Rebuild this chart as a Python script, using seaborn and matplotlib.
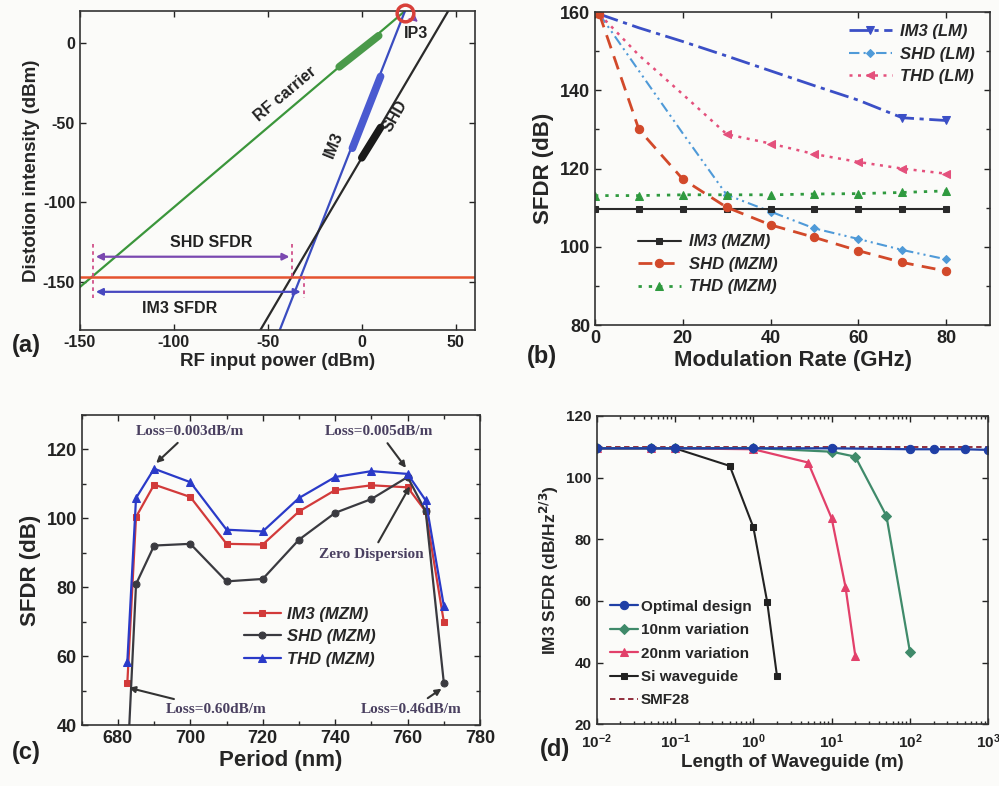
import matplotlib
matplotlib.use("Agg")
import matplotlib.pyplot as plt
import matplotlib.ticker as mticker
import seaborn as sns

# ---------------- data (a) ----------------
a_carrier_x = [-150, 23]
a_carrier_y = [-153, 20]
a_im3_x = [-44, 23]
a_im3_y = [-181, 20]
a_shd_x = [-54, 46]
a_shd_y = [-180, 20]
a_carrier_meas_x = [-12, 9]
a_carrier_meas_y = [-15, 4.5]
a_im3_meas_x = [-5, 10]
a_im3_meas_y = [-66, -21]
a_shd_meas_x = [0, 10]
a_shd_meas_y = [-72, -53]
a_noise_floor = -146.5
a_ip3 = (23, 19)
a_shd_sfdr = (-143, -37, -134)
a_im3_sfdr = (-143, -31, -156)

# ---------------- data (b) ----------------
b_x_lm = [1, 10, 20, 30, 40, 50, 60, 70, 80]
b_im3_lm = [159.5, 156, 152.5, 148.8, 145, 141.2, 137.5, 133, 132.3]
b_shd_lm = [159.5, 145, 129, 113.3, 109, 104.7, 102, 99.2, 96.8]
b_thd_lm = [159.5, 149, 139, 128.8, 126.4, 123.7, 121.7, 120, 118.7]
b_x_mzm = [0, 10, 20, 30, 40, 50, 60, 70, 80]
b_im3_mzm = [109.7, 109.7, 109.7, 109.7, 109.7, 109.7, 109.7, 109.7, 109.7]
b_shd_mzm = [159.5, 130, 117.3, 110.1, 105.6, 102.4, 99, 96, 93.8]
b_thd_mzm = [113.1, 113.1, 113.3, 113.3, 113.3, 113.5, 113.6, 113.9, 114.3]

# ---------------- data (c) ----------------
c_x = [682.6, 685, 690, 700, 710, 720, 730, 740, 750, 760, 765, 770]
c_im3 = [52.3, 100.4, 109.8, 106.2, 92.6, 92.4, 102, 108.2, 109.6, 109, 102, 70]
c_shd = [28, 80.9, 92.1, 92.6, 81.7, 82.4, 93.8, 101.6, 105.6, 112, 102, 52.3]
c_thd = [58.4, 105.9, 114.4, 110.5, 96.7, 96.2, 105.9, 112, 113.7, 112.9, 105.2, 74.6]

# ---------------- data (d) ----------------
d_opt_x = [0.01, 0.05, 0.1, 1, 10, 100, 200, 500, 1000]
d_opt_y = [109.5, 109.5, 109.5, 109.5, 109.5, 109.2, 109.2, 109.2, 109.0]
d_10_x = [0.01, 0.05, 0.1, 1, 10, 20, 50, 100]
d_10_y = [109.5, 109.5, 109.5, 109.6, 108.4, 106.8, 87.6, 43.4]
d_20_x = [0.01, 0.05, 0.1, 1, 5, 10, 15, 20]
d_20_y = [109.5, 109.5, 109.5, 109.2, 104.9, 86.8, 64.6, 42.3]
d_si_x = [0.01, 0.05, 0.1, 0.5, 1, 1.5, 2]
d_si_y = [109.5, 109.5, 109.5, 103.8, 83.9, 59.8, 35.8]
d_smf_x = [0.01, 1000]
d_smf_y = [110, 110]

sns.set_theme(style="ticks")
plt.rcParams["font.family"] = ["Liberation Sans", "DejaVu Sans"]
plt.rcParams["font.weight"] = "bold"
plt.rcParams["axes.labelweight"] = "bold"
plt.rcParams["axes.linewidth"] = 1.2
plt.rcParams["axes.edgecolor"] = "#333333"
plt.rcParams["axes.unicode_minus"] = False

BG = "#fbfbf9"
fig = plt.figure(figsize=(9.99, 7.86), dpi=100, facecolor=BG)


def style_ax(ax, size):
    ax.set_facecolor(BG)
    ax.tick_params(direction="in", top=True, right=True, labelsize=size,
                   length=4, width=1, colors="#222222")
    for lab in ax.get_xticklabels() + ax.get_yticklabels():
        lab.set_fontweight("bold")


def line(ax, x, y, **kw):
    sns.lineplot(x=x, y=y, ax=ax, sort=False, estimator=None, **kw)


# =============== panel (a) ===============
ax = fig.add_axes([0.080, 0.580, 0.395, 0.406])
green, blue, black = "#3b963b", "#3a4cc0", "#2a2a2a"
line(ax, a_carrier_x, a_carrier_y, color=green, lw=1.6)
line(ax, a_im3_x, a_im3_y, color=blue, lw=1.6)
line(ax, a_shd_x, a_shd_y, color=black, lw=1.6)
line(ax, a_carrier_meas_x, a_carrier_meas_y, color="#4a9a4a", lw=5.5, solid_capstyle="round")
line(ax, a_im3_meas_x, a_im3_meas_y, color="#4a5ad0", lw=5.5, solid_capstyle="round")
line(ax, a_shd_meas_x, a_shd_meas_y, color="#1a1a1a", lw=5.5, solid_capstyle="round")
ax.axhline(a_noise_floor, color="#e5532f", lw=1.8)
for xv, y0, y1 in [(-143, -126, -160), (-37, -126, -148), (-31, -146, -160)]:
    ax.plot([xv, xv], [y0, y1], color="#d0508a", lw=1.3, ls=(0, (2, 2)))
ax.annotate("", xy=(a_shd_sfdr[0], a_shd_sfdr[2]), xytext=(a_shd_sfdr[1], a_shd_sfdr[2]),
            arrowprops=dict(arrowstyle="<|-|>", color="#7a48b0", lw=1.6, mutation_scale=10))
ax.annotate("", xy=(a_im3_sfdr[0], a_im3_sfdr[2]), xytext=(a_im3_sfdr[1], a_im3_sfdr[2]),
            arrowprops=dict(arrowstyle="<|-|>", color="#4848c0", lw=1.6, mutation_scale=10))
ax.plot([a_ip3[0]], [a_ip3[1]], marker="o", ms=12, mfc="none", mec="#d8403a", mew=2.5,
        clip_on=False, zorder=5)
ax.annotate("", xy=(31, 12), xytext=(26, 17),
            arrowprops=dict(arrowstyle="->", color="#7a48b0", lw=1.2))
ax.text(29, 6, "IP3", fontsize=11.5, fontweight="bold", ha="center", va="center", color="#222")
ax.text(-41, -32, "RF carrier", rotation=40, fontsize=11.5, fontweight="bold",
        ha="center", va="center", color="#222")
ax.text(-15, -64, "IM3", rotation=68, fontsize=11.5, fontweight="bold",
        ha="center", va="center", color="#222")
ax.text(18, -46, "SHD", rotation=60, fontsize=11.5, fontweight="bold",
        ha="center", va="center", color="#222")
ax.text(-80, -125, "SHD SFDR", fontsize=11.5, fontweight="bold", ha="center", va="center", color="#222")
ax.text(-97, -166.5, "IM3 SFDR", fontsize=11.5, fontweight="bold", ha="center", va="center", color="#222")
ax.set_xlim(-150, 60)
ax.set_ylim(-180, 20)
ax.set_xticks([-150, -100, -50, 0, 50])
ax.set_yticks([-150, -100, -50, 0])
ax.set_xlabel("RF input power (dBm)", fontsize=13.5, fontweight="bold", labelpad=2)
ax.set_ylabel("Distotion intensity (dBm)", fontsize=13.5, fontweight="bold", labelpad=2)
style_ax(ax, 11.5)

# =============== panel (b) ===============
ax = fig.add_axes([0.5956, 0.5865, 0.3954, 0.398])
c_im3lm, c_shdlm, c_thdlm = "#3b4fc6", "#4f9ad8", "#e4507c"
c_shdmzm, c_thdmzm = "#d2492a", "#2f9a3f"
line(ax, b_x_lm, b_im3_lm, color=c_im3lm, lw=2, ls=(0, (7, 2, 1.5, 2)), marker="v", ms=6,
     markevery=[0, 7, 8], mec=c_im3lm, label="IM3 (LM)")
line(ax, b_x_lm, b_shd_lm, color=c_shdlm, lw=1.5, ls=(0, (5, 2, 1, 2, 1, 2)), marker="D", ms=4.5,
     markevery=[0, 3, 4, 5, 6, 7, 8], mec=c_shdlm, label="SHD (LM)")
line(ax, b_x_lm, b_thd_lm, color=c_thdlm, lw=1.8, ls=(0, (1.2, 2.2)), marker="<", ms=6,
     markevery=[0, 3, 4, 5, 6, 7, 8], mec=c_thdlm, label="THD (LM)")
line(ax, b_x_mzm, b_im3_mzm, color="#2a2a2a", lw=1.5, marker="s", ms=4.5, mec="#2a2a2a",
     label="IM3 (MZM)")
line(ax, b_x_lm, b_shd_mzm, color=c_shdmzm, lw=2, ls=(0, (5, 3)), marker="o", ms=6,
     mec=c_shdmzm, label="SHD (MZM)")
line(ax, b_x_mzm, b_thd_mzm, color=c_thdmzm, lw=2, ls=(0, (1.2, 2.5)), marker="^", ms=6,
     mec=c_thdmzm, label="THD (MZM)")
handles, labels = ax.get_legend_handles_labels()
if ax.get_legend():
    ax.get_legend().remove()
lp = dict(frameon=False, handlelength=2.6, labelspacing=0.45, handletextpad=0.5,
          prop=dict(weight="bold", style="italic", size=12))
leg1 = ax.legend(handles[:3], labels[:3], loc="upper right", bbox_to_anchor=(1.0, 1.01), **lp)
ax.add_artist(leg1)
ax.legend(handles[3:], labels[3:], loc="lower left", bbox_to_anchor=(0.07, 0.05), **lp)
ax.set_xlim(0, 90)
ax.set_ylim(80, 160)
ax.set_xticks([0, 20, 40, 60, 80])
ax.set_yticks([80, 100, 120, 140, 160])
ax.yaxis.set_minor_locator(mticker.MultipleLocator(10))
ax.set_xlabel("Modulation Rate (GHz)", fontsize=16, fontweight="bold", labelpad=2)
ax.set_ylabel("SFDR (dB)", fontsize=16, fontweight="bold", labelpad=4)
style_ax(ax, 13)
ax.tick_params(which="minor", direction="in", right=True, length=3)

# =============== panel (c) ===============
ax = fig.add_axes([0.0818, 0.0776, 0.3987, 0.3944])
cr, cg, cb = "#d23a3a", "#3a3a40", "#2a3ac8"
line(ax, c_x, c_im3, color=cr, lw=1.6, marker="s", ms=5, mec=cr, label="IM3 (MZM)")
line(ax, c_x, c_shd, color=cg, lw=1.6, marker="o", ms=5, mec=cg, label="SHD (MZM)")
line(ax, c_x, c_thd, color=cb, lw=1.6, marker="^", ms=6, mec=cb, label="THD (MZM)")
handles, labels = ax.get_legend_handles_labels()
ax.legend(handles, labels, loc="lower left", bbox_to_anchor=(0.37, 0.14), frameon=False,
          handlelength=2.2, labelspacing=0.45, handletextpad=0.4,
          prop=dict(weight="bold", style="italic", size=12))
serif = ["Liberation Serif", "DejaVu Serif"]
tc = "#4a4060"
ap = dict(arrowstyle="-|>", color="#333", lw=1.5, mutation_scale=9)
ax.annotate("Loss=0.003dB/m", xy=(690, 115.5), xytext=(685, 125.3), fontsize=11,
            family=serif, weight="bold", color=tc, ha="left", va="center", arrowprops=ap)
ax.annotate("Loss=0.005dB/m", xy=(760, 114), xytext=(737, 125.3), fontsize=11,
            family=serif, weight="bold", color=tc, ha="left", va="center", arrowprops=ap)
ax.annotate("Zero Dispersion", xy=(761, 110), xytext=(750, 89.5), fontsize=11,
            family=serif, weight="bold", color=tc, ha="center", va="center", arrowprops=ap)
ax.annotate("Loss=0.60dB/m", xy=(682.3, 51), xytext=(707, 44.5), fontsize=11,
            family=serif, weight="bold", color=tc, ha="center", va="center", arrowprops=ap)
ax.annotate("Loss=0.46dB/m", xy=(770, 51), xytext=(761, 44.5), fontsize=11,
            family=serif, weight="bold", color=tc, ha="center", va="center", arrowprops=ap)
ax.set_xlim(670, 780)
ax.set_ylim(40, 130)
ax.set_xticks([680, 700, 720, 740, 760, 780])
ax.set_yticks([40, 60, 80, 100, 120])
ax.xaxis.set_minor_locator(mticker.MultipleLocator(10))
ax.yaxis.set_minor_locator(mticker.MultipleLocator(10))
ax.set_xlabel("Period (nm)", fontsize=16, fontweight="bold", labelpad=2)
ax.set_ylabel("SFDR (dB)", fontsize=16, fontweight="bold", labelpad=4)
style_ax(ax, 13)
ax.tick_params(which="minor", direction="in", top=True, right=True, length=3)

# =============== panel (d) ===============
ax = fig.add_axes([0.5973, 0.0785, 0.392, 0.3923])
co, c10, c20, csi, csmf = "#1f3fa6", "#3f8a6a", "#e2406a", "#222222", "#8a1f2f"
line(ax, d_smf_x, d_smf_y, color=csmf, lw=1.3, ls=(0, (3, 2)), label="SMF28")
line(ax, d_si_x, d_si_y, color=csi, lw=1.5, marker="s", ms=5, mec=csi, label="Si waveguide")
line(ax, d_20_x, d_20_y, color=c20, lw=1.6, marker="^", ms=6, mec=c20, label="20nm variation")
line(ax, d_10_x, d_10_y, color=c10, lw=1.6, marker="D", ms=5, mec=c10, label="10nm variation")
line(ax, d_opt_x, d_opt_y, color=co, lw=1.6, marker="o", ms=6, mec=co, label="Optimal design")
handles, labels = ax.get_legend_handles_labels()
order = [4, 3, 2, 1, 0]
ax.legend([handles[i] for i in order], [labels[i] for i in order], loc="lower left",
          bbox_to_anchor=(0.0, 0.01), frameon=False, handlelength=1.8, labelspacing=0.62,
          handletextpad=0.2, prop=dict(weight="bold", size=11))
ax.set_xscale("log")
ax.set_xlim(1e-2, 1e3)
ax.set_ylim(20, 120)
ax.set_yticks([20, 40, 60, 80, 100, 120])
ax.xaxis.set_major_locator(mticker.LogLocator(base=10, numticks=10))
ax.xaxis.set_minor_locator(mticker.LogLocator(base=10, subs=range(2, 10), numticks=20))
ax.set_xlabel("Length of Waveguide (m)", fontsize=13.5, fontweight="bold", labelpad=2)
ax.set_ylabel("IM3 SFDR (dB/Hz$^{\\mathbf{2/3}}$)", fontsize=12.5, fontweight="bold", labelpad=4)
style_ax(ax, 11)
ax.tick_params(axis="x", pad=6)
ax.tick_params(which="minor", direction="in", top=True, right=True, length=2.5)

# panel letters
for x, y, t in [(0.012, 0.561, "(a)"), (0.527, 0.547, "(b)"), (0.012, 0.042, "(c)"),
                (0.540, 0.046, "(d)")]:
    fig.text(x, y, t, fontsize=17, fontweight="bold", ha="left", va="center", color="#222")

fig.savefig("out.png", dpi=100, facecolor=BG)
